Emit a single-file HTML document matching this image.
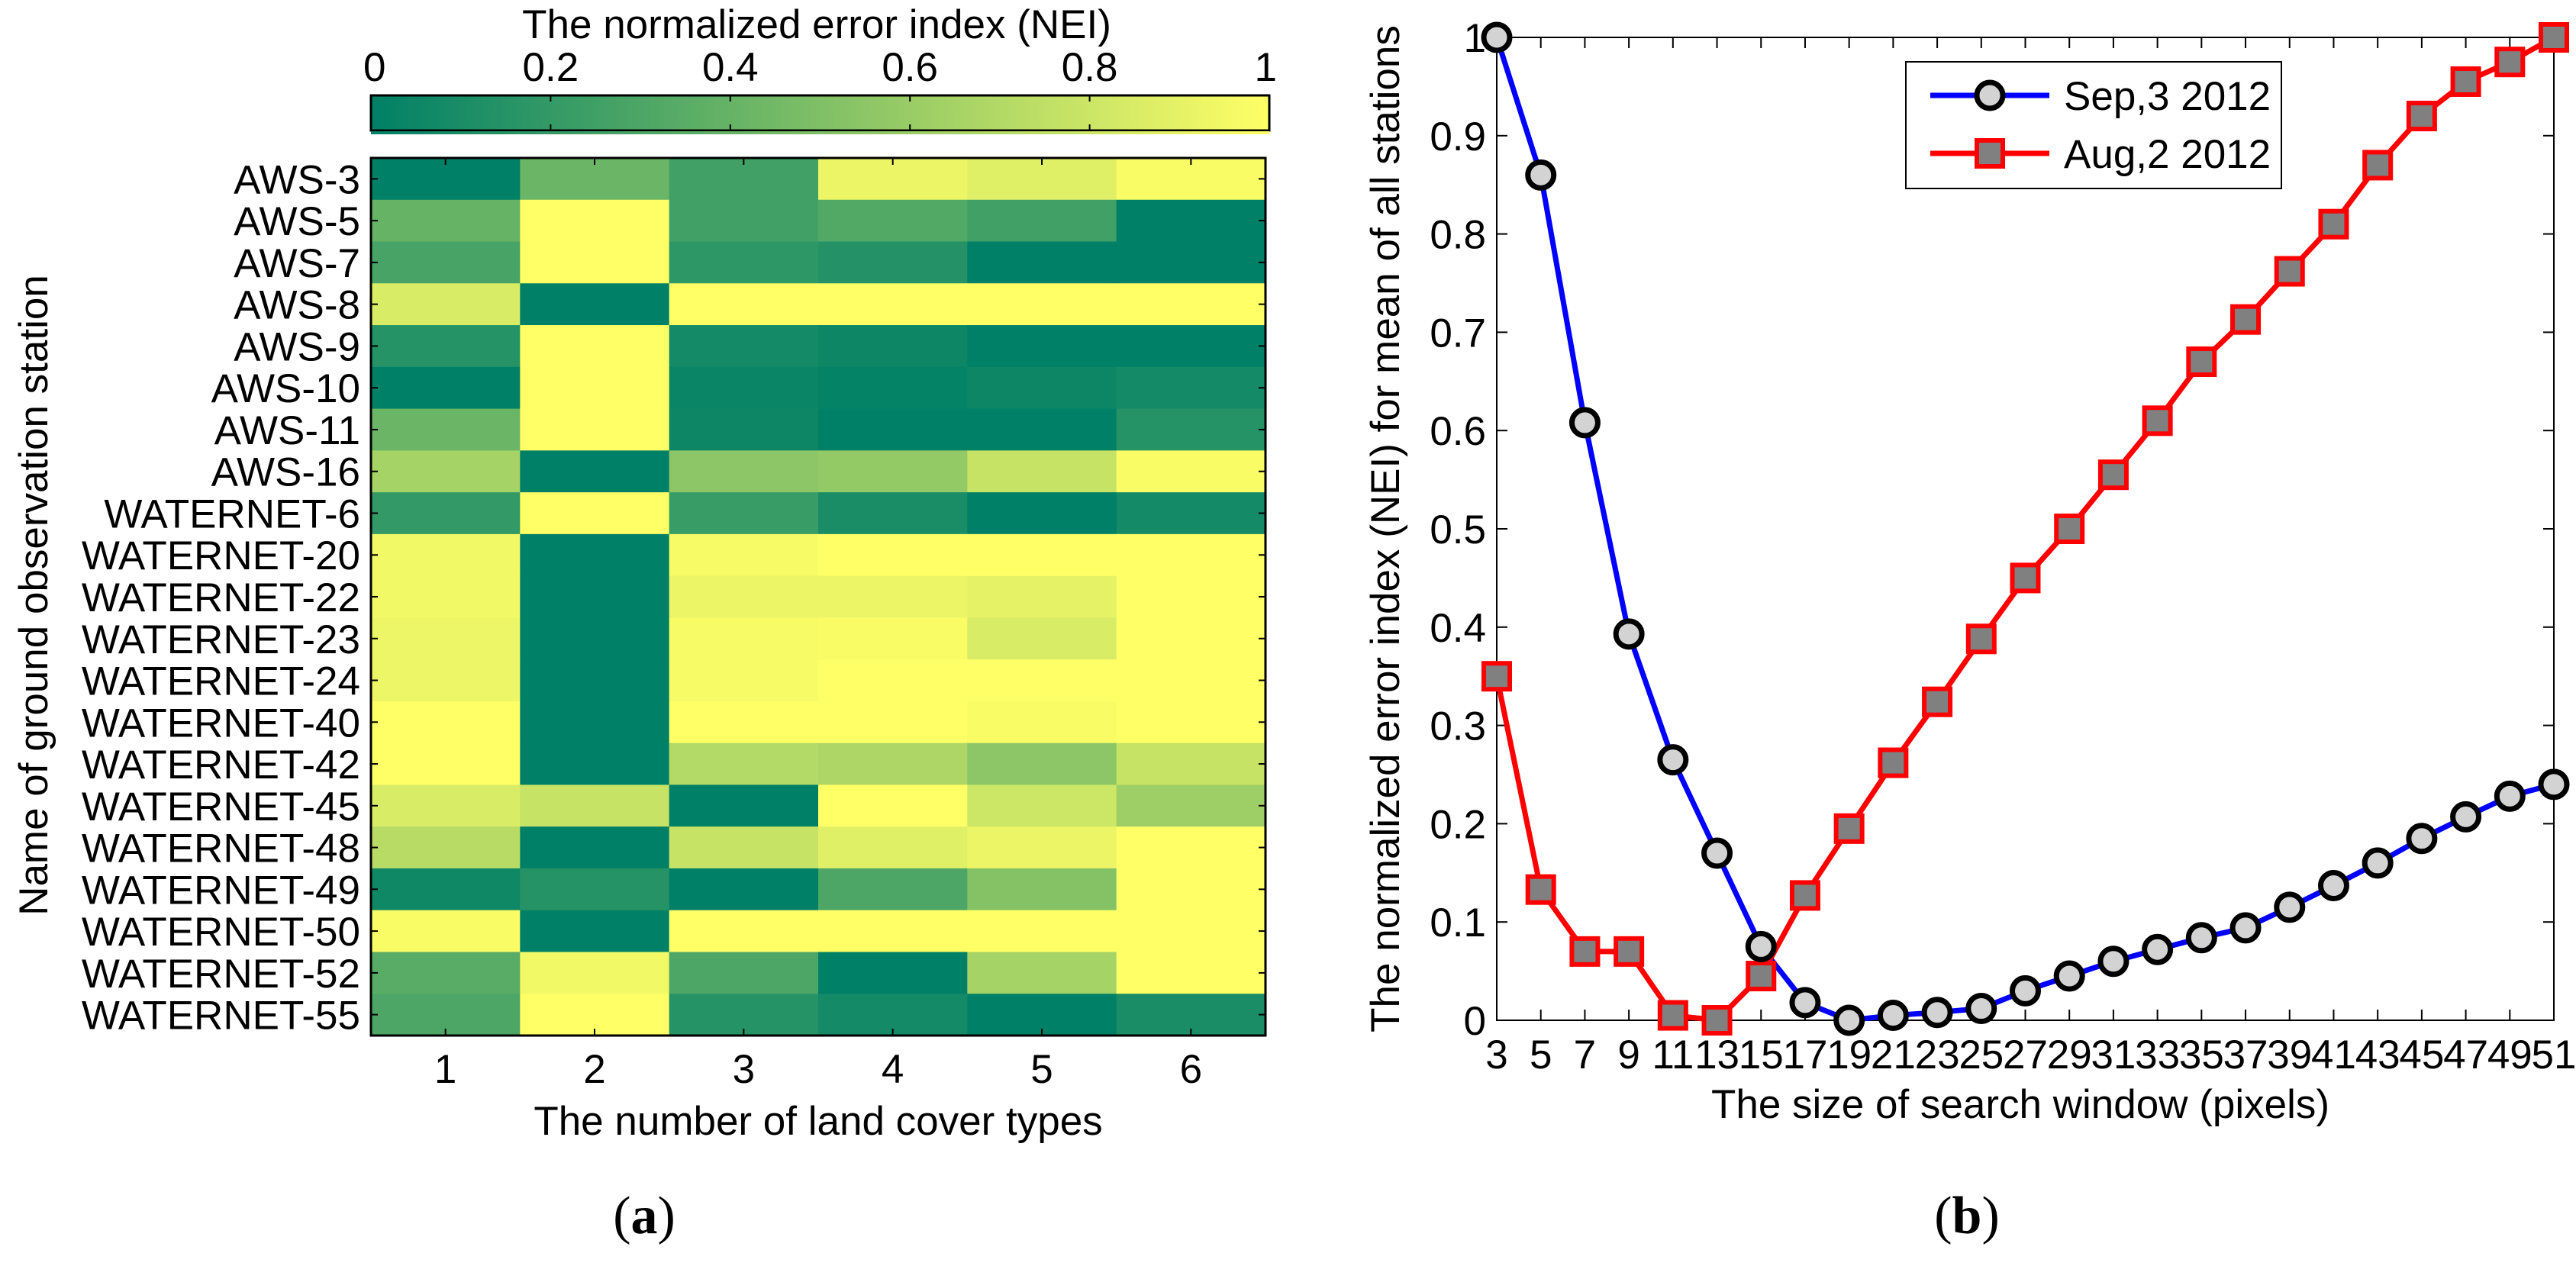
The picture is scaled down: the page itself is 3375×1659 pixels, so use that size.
<!DOCTYPE html>
<html><head><meta charset="utf-8"><style>
html,body{margin:0;padding:0;background:#fff;}
svg{display:block;font-family:"Liberation Sans",Arial,sans-serif;}
</style></head><body>
<svg id="fig" width="3375" height="1659" viewBox="0 0 3375 1659" xmlns="http://www.w3.org/2000/svg">
<defs>
<linearGradient id="cbg" x1="0" x2="1" y1="0" y2="0">
<stop offset="0" stop-color="#008066"/><stop offset="1" stop-color="#ffff66"/>
</linearGradient>
</defs>
<g id="heat"></g>
<g id="line"></g>
</svg>
<script>
const stations=["AWS-3","AWS-5","AWS-7","AWS-8","AWS-9","AWS-10","AWS-11","AWS-16","WATERNET-6","WATERNET-20","WATERNET-22","WATERNET-23","WATERNET-24","WATERNET-40","WATERNET-42","WATERNET-45","WATERNET-48","WATERNET-49","WATERNET-50","WATERNET-52","WATERNET-55"];
const landTypes=[1,2,3,4,5,6];
const neiGrid=[
[0,0.42,0.25,0.92,0.88,0.98],
[0.4,1,0.25,0.32,0.25,0],
[0.28,1,0.18,0.14,0,0],
[0.85,0,1,1,1,1],
[0.15,1,0.08,0.05,0,0],
[0,1,0.04,0.02,0.05,0.08],
[0.42,1,0.05,0,0,0.15],
[0.65,0,0.55,0.58,0.78,0.98],
[0.2,1,0.22,0.1,0,0.08],
[0.95,0,0.97,1,1,1],
[0.95,0,0.92,0.92,0.9,1],
[0.93,0,0.97,0.98,0.85,1],
[0.93,0,0.97,1,1,1],
[1,0,1,1,0.98,1],
[1,0,0.7,0.68,0.55,0.78],
[0.85,0.78,0,1,0.8,0.62],
[0.72,0,0.78,0.88,0.92,1],
[0.06,0.15,0,0.3,0.52,1],
[0.98,0,1,1,1,1],
[0.35,0.95,0.3,0,0.65,1],
[0.3,1,0.15,0.08,0,0.1]
];
const cbTicks=[0,0.2,0.4,0.6,0.8,1];
const cbTickLabels=["0","0.2","0.4","0.6","0.8","1"];
const windowSizes=[3,5,7,9,11,13,15,17,19,21,23,25,27,29,31,33,35,37,39,41,43,45,47,49,51];
const sep2012=[1,0.86,0.608,0.393,0.265,0.17,0.075,0.018,0,0.005,0.008,0.012,0.03,0.045,0.06,0.072,0.084,0.094,0.115,0.137,0.16,0.185,0.207,0.228,0.24];
const aug2012=[0.35,0.133,0.07,0.07,0.005,0,0.045,0.127,0.195,0.262,0.324,0.388,0.45,0.5,0.555,0.61,0.67,0.713,0.762,0.81,0.87,0.92,0.955,0.975,1];
const yTicks=[0,0.1,0.2,0.3,0.4,0.5,0.6,0.7,0.8,0.9,1];
const yTickLabels=["0","0.1","0.2","0.3","0.4","0.5","0.6","0.7","0.8","0.9","1"];

const NS="http://www.w3.org/2000/svg";
const FS=53;
function mk(tag,attrs,parent,text){const e=document.createElementNS(NS,tag);for(const k in attrs)e.setAttribute(k,attrs[k]);if(text!==undefined)e.textContent=text;parent.appendChild(e);return e;}
function cmap(v){const r=Math.round(255*v),g=Math.round(128+127*v);return `rgb(${r},${g},102)`;}

// ---- Heatmap ----
const H=document.getElementById('heat');
const hx0=486,hx1=1658,hy0=207,hy1=1357;
const cw=(hx1-hx0)/landTypes.length, ch=(hy1-hy0)/stations.length;
const colX=i=>hx0+i*cw, rowY=j=>hy0+j*ch;
neiGrid.forEach((row,j)=>row.forEach((v,i)=>{
 const c=mk('rect',{x:colX(i),y:rowY(j),width:cw+0.6,height:ch+0.6,fill:cmap(v)},H);
 
 
}));
const hb=mk('rect',{x:hx0,y:hy0,width:hx1-hx0,height:hy1-hy0,fill:'none',stroke:'#000','stroke-width':3},H);

stations.forEach((s,j)=>{
 const yc=rowY(j)+ch/2;
 mk('line',{x1:hx0,x2:hx0+9,y1:yc,y2:yc,stroke:'#000','stroke-width':2},H);
 mk('line',{x1:hx1,x2:hx1-9,y1:yc,y2:yc,stroke:'#000','stroke-width':2},H);
 const t=mk('text',{x:472,y:yc+19,'text-anchor':'end','font-size':FS},H,s);
 
});
landTypes.forEach((n,i)=>{
 const xc=colX(i)+cw/2;
 mk('line',{x1:xc,x2:xc,y1:hy1,y2:hy1-9,stroke:'#000','stroke-width':2},H);
 mk('line',{x1:xc,x2:xc,y1:hy0,y2:hy0+9,stroke:'#000','stroke-width':2},H);
 const t=mk('text',{x:xc,y:1419,'text-anchor':'middle','font-size':FS},H,String(n));
 
});
let t=mk('text',{x:1072,y:1487,'text-anchor':'middle','font-size':FS},H,'The number of land cover types');

t=mk('text',{x:0,y:0,'text-anchor':'middle','font-size':FS,transform:'translate(62,780) rotate(-90)'},H,'Name of ground observation station');

// colorbar
const cbx0=486,cbx1=1663,cby0=125,cby1=171;
const cb=mk('rect',{x:cbx0,y:cby0,width:cbx1-cbx0,height:cby1-cby0,fill:'url(#cbg)',stroke:'#000','stroke-width':3},H);

mk('rect',{x:cbx0,y:cby1+1,width:cbx1-cbx0,height:4,fill:'url(#cbg)'},H);
const cbX=v=>cbx0+v*(cbx1-cbx0);
cbTicks.forEach((v,i)=>{
 mk('line',{x1:cbX(v),x2:cbX(v),y1:cby0,y2:cby0+8,stroke:'#000','stroke-width':2},H);
 mk('line',{x1:cbX(v),x2:cbX(v),y1:cby1,y2:cby1-8,stroke:'#000','stroke-width':2},H);
 const a=i===0?'start':(i===cbTicks.length-1?'end':'middle');
 const tt=mk('text',{x:cbX(v)+(i===0?-10:0)+(i===cbTicks.length-1?10:0),y:106,'text-anchor':a,'font-size':FS},H,cbTickLabels[i]);
 
});
t=mk('text',{x:1070,y:50,'text-anchor':'middle','font-size':FS},H,'The normalized error index (NEI)');

t=mk('text',{x:844,y:1616,'text-anchor':'middle','font-size':70,'font-family':'Liberation Serif, serif'},H);

mk('tspan',{},t,'(');mk('tspan',{'font-weight':'bold'},t,'a');mk('tspan',{},t,')');

// ---- Line chart ----
const L=document.getElementById('line');
const px0=1961,px1=3346,py0=49,py1=1337;
const X=v=>px0+(v-3)/(51-3)*(px1-px0);
const Y=v=>py1-v*(py1-py0);
const fr=mk('rect',{x:px0,y:py0,width:px1-px0,height:py1-py0,fill:'none',stroke:'#000','stroke-width':2},L);

yTicks.forEach((v,i)=>{
 mk('line',{x1:px0,x2:px0+14,y1:Y(v),y2:Y(v),stroke:'#000','stroke-width':2},L);
 mk('line',{x1:px1,x2:px1-14,y1:Y(v),y2:Y(v),stroke:'#000','stroke-width':2},L);
 const tt=mk('text',{x:1947,y:Y(v)+19,'text-anchor':'end','font-size':FS},L,yTickLabels[i]);
 
});
windowSizes.forEach(w=>{
 mk('line',{x1:X(w),x2:X(w),y1:py1,y2:py1-14,stroke:'#000','stroke-width':2},L);
 mk('line',{x1:X(w),x2:X(w),y1:py0,y2:py0+14,stroke:'#000','stroke-width':2},L);
 const tt=mk('text',{x:X(w),y:1400,'text-anchor':'middle','font-size':FS},L,String(w));
 
});
t=mk('text',{x:2647,y:1465,'text-anchor':'middle','font-size':FS},L,'The size of search window (pixels)');

t=mk('text',{x:0,y:0,'text-anchor':'middle','font-size':FS,transform:'translate(1833,693) rotate(-90)'},L,'The normalized error index (NEI) for mean of all stations');

const pl=(arr)=>arr.map((v,i)=>X(windowSizes[i])+','+Y(v)).join(' ');
const ls=mk('polyline',{points:pl(sep2012),fill:'none',stroke:'#0000ff','stroke-width':7,'stroke-linejoin':'round'},L);

const la=mk('polyline',{points:pl(aug2012),fill:'none',stroke:'#ff0000','stroke-width':7,'stroke-linejoin':'round'},L);

aug2012.forEach((v,i)=>{
 const m=mk('rect',{x:X(windowSizes[i])-17,y:Y(v)-17,width:34,height:34,fill:'#808080',stroke:'#ff0000','stroke-width':6},L);
 
});
sep2012.forEach((v,i)=>{
 const m=mk('circle',{cx:X(windowSizes[i]),cy:Y(v),r:17,fill:'#d3d3d3',stroke:'#000','stroke-width':7},L);
 
});
// legend
const lg=mk('g',{},L);

mk('rect',{x:2497,y:81,width:492,height:166,fill:'#fff',stroke:'#000','stroke-width':2},lg);
let e1=mk('g',{},lg);
mk('line',{x1:2529,x2:2685,y1:125,y2:125,stroke:'#0000ff','stroke-width':7},e1);
mk('circle',{cx:2607,cy:125,r:17,fill:'#d3d3d3',stroke:'#000','stroke-width':7},e1);
mk('text',{x:2704,y:144,'font-size':FS},e1,'Sep,3 2012');
let e2=mk('g',{},lg);
mk('line',{x1:2529,x2:2685,y1:201,y2:201,stroke:'#ff0000','stroke-width':7},e2);
mk('rect',{x:2590,y:184,width:34,height:34,fill:'#808080',stroke:'#ff0000','stroke-width':6},e2);
mk('text',{x:2704,y:220,'font-size':FS},e2,'Aug,2 2012');
t=mk('text',{x:2577,y:1616,'text-anchor':'middle','font-size':70,'font-family':'Liberation Serif, serif'},L);

mk('tspan',{},t,'(');mk('tspan',{'font-weight':'bold'},t,'b');mk('tspan',{},t,')');
</script>
</body></html>
